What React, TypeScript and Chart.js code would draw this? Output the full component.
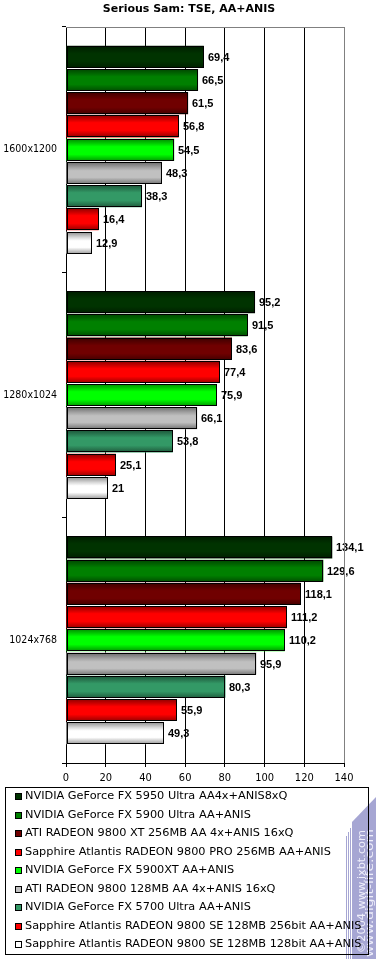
import React, { useEffect, useRef } from 'react';
import { Chart, registerables } from 'chart.js';

Chart.register(...registerables);

const TITLE = 'Serious Sam: TSE, AA+ANIS';
const categories = ['1600x1200', '1280x1024', '1024x768'];
const xTicks = [0, 20, 40, 60, 80, 100, 120, 140];

const seriesNames = [
  'NVIDIA GeForce FX 5950 Ultra AA4x+ANIS8xQ',
  'NVIDIA GeForce FX 5900 Ultra AA+ANIS',
  'ATI RADEON 9800 XT 256MB AA 4x+ANIS 16xQ',
  'Sapphire Atlantis RADEON 9800 PRO 256MB AA+ANIS',
  'NVIDIA GeForce FX 5900XT AA+ANIS',
  'ATI RADEON 9800 128MB AA 4x+ANIS 16xQ',
  'NVIDIA GeForce FX 5700 Ultra AA+ANIS',
  'Sapphire Atlantis RADEON 9800 SE 128MB 256bit AA+ANIS',
  'Sapphire Atlantis RADEON 9800 SE 128MB 128bit AA+ANIS',
];

const fx5950 = [69.4, 95.2, 134.1];
const fx5900 = [66.5, 91.5, 129.6];
const r9800xt = [61.5, 83.6, 118.1];
const r9800pro = [56.8, 77.4, 111.2];
const fx5900xt = [54.5, 75.9, 110.2];
const r9800 = [48.3, 66.1, 95.9];
const fx5700 = [38.3, 53.8, 80.3];
const r9800se256 = [16.4, 25.1, 55.9];
const r9800se128 = [12.9, 21, 49.3];

const seriesValues = [fx5950, fx5900, r9800xt, r9800pro, fx5900xt, r9800, fx5700, r9800se256, r9800se128];

const seriesColors = [
  '#003300', '#008000', '#700000', '#ff0000', '#00ff00', '#c0c0c0', '#339966', '#ff0000', '#ffffff',
];

const FONT = "'DejaVu Sans', Verdana, sans-serif";
const FONT_C = "'DejaVu Sans Condensed', 'Liberation Sans', sans-serif";

function shade(hex: string, f: number): string {
  const n = parseInt(hex.slice(1), 16);
  const r = Math.round(((n >> 16) & 255) * f);
  const g = Math.round(((n >> 8) & 255) * f);
  const b = Math.round((n & 255) * f);
  return `rgb(${r},${g},${b})`;
}

const fmt = (v: number) => String(v).replace('.', ',');

const barPlugin = {
  id: 'tubeBars',
  afterDatasetsDraw(chart: any) {
    const ctx = chart.ctx;
    ctx.save();
    chart.data.datasets.forEach((ds: any, di: number) => {
      const meta = chart.getDatasetMeta(di);
      const base = seriesColors[di];
      const isLight = base === '#ffffff' || base === '#c0c0c0';
      meta.data.forEach((el: any) => {
        const p = el.getProps(['x', 'y', 'base', 'height'], true);
        const t = Math.round(p.y - p.height / 2);
        const b = Math.round(p.y + p.height / 2);
        const l = Math.round(p.base);
        const r = Math.round(p.x);
        const g = ctx.createLinearGradient(0, t, 0, b);
        if (isLight) {
          g.addColorStop(0, shade(base, 0.55));
          g.addColorStop(0.25, shade(base, 0.85));
          g.addColorStop(0.4, base);
          g.addColorStop(0.7, base);
          g.addColorStop(1, shade(base, 0.6));
        } else {
          g.addColorStop(0, shade(base, 0.55));
          g.addColorStop(0.2, shade(base, 0.8));
          g.addColorStop(0.35, base);
          g.addColorStop(0.7, base);
          g.addColorStop(1, shade(base, 0.6));
        }
        ctx.fillStyle = g;
        ctx.fillRect(l, t, r - l, b - t);
        ctx.strokeStyle = '#000';
        ctx.lineWidth = 1;
        ctx.strokeRect(l + 0.5, t + 0.5, r - l - 1, b - t - 1);
      });
    });
    ctx.restore();
  },
};

const labelPlugin = {
  id: 'valueLabels',
  beforeDraw(chart: any) {
    const ctx = chart.ctx;
    ctx.save();
    // title
    ctx.font = `bold 11px ${FONT}`;
    ctx.fillStyle = '#000';
    ctx.textAlign = 'center';
    ctx.textBaseline = 'middle';
    ctx.fillText(TITLE, 189, 9);
    // value labels
    ctx.font = "bold 11px 'Liberation Sans', Arial, sans-serif";
    ctx.textAlign = 'left';
    chart.data.datasets.forEach((ds: any, di: number) => {
      const meta = chart.getDatasetMeta(di);
      meta.data.forEach((el: any, i: number) => {
        const p = el.getProps(['x', 'y'], true);
        ctx.fillText(fmt(ds.data[i]), Math.round(p.x) + 4, p.y + 1);
      });
    });
    ctx.restore();
  },
};

const framePlugin = {
  id: 'frameTop',
  afterDraw(chart: any) {
    const { ctx, chartArea } = chart;
    ctx.save();
    ctx.strokeStyle = '#808080';
    ctx.lineWidth = 1;
    ctx.beginPath();
    ctx.moveTo(chartArea.left, Math.round(chartArea.top) + 0.5);
    ctx.lineTo(chartArea.right + 1, Math.round(chartArea.top) + 0.5);
    ctx.stroke();
    ctx.restore();
  },
};

const watermarkLegendPlugin = {
  id: 'watermarkLegend',
  afterDraw(chart: any) {
    const ctx = chart.ctx;
    ctx.save();
    // watermark
    const lav = '#a6a6d3';
    ctx.fillStyle = lav;
    ctx.beginPath();
    ctx.moveTo(352, 822);
    ctx.lineTo(376, 797);
    ctx.lineTo(376, 959);
    ctx.lineTo(352, 959);
    ctx.closePath();
    ctx.fill();
    ctx.strokeStyle = lav;
    ctx.lineWidth = 1;
    [346.5, 348.5, 350.5].forEach((x, k) => {
      ctx.beginPath();
      ctx.moveTo(x, 836 - k * 4);
      ctx.lineTo(x, 959);
      ctx.stroke();
    });
    ctx.fillStyle = '#eeeefa';
    ctx.font = `10px ${FONT}`;
    ctx.textAlign = 'left';
    ctx.textBaseline = 'middle';
    const wm = [
      { text: '\u00a92004 www.ixbt.com', x: 362, y: 953, len: 123 },
      { text: 'www.digit-life.com', x: 370, y: 957, len: 128 },
    ];
    wm.forEach((w) => {
      ctx.save();
      ctx.translate(w.x, w.y);
      ctx.rotate(-Math.PI / 2);
      const mw = ctx.measureText(w.text).width;
      ctx.scale(w.len / mw, 1);
      ctx.fillText(w.text, 0, 0);
      ctx.restore();
    });

    // legend
    ctx.strokeStyle = '#000';
    ctx.lineWidth = 1;
    ctx.strokeRect(5.5, 787.5, 363, 167);
    ctx.font = `11.3px ${FONT}`;
    ctx.textBaseline = 'middle';
    ctx.fillStyle = '#000';
    seriesNames.forEach((name, i) => {
      const cy = Math.round(796 + i * 18.5);
      ctx.fillStyle = seriesColors[i];
      ctx.fillRect(15, cy - 3, 7, 7);
      ctx.strokeStyle = '#000';
      ctx.strokeRect(15.5, cy - 2.5, 6, 6);
      ctx.fillStyle = '#000';
      ctx.fillText(name, 25, cy + 0.5);
    });
    ctx.restore();
  },
};

export default function App() {
  const ref = useRef<HTMLCanvasElement | null>(null);

  useEffect(() => {
    document.body.style.margin = '0';
    document.body.style.background = '#ffffff';
    if (!ref.current) return;
    const chart = new Chart(ref.current, {
      type: 'bar',
      data: {
        labels: categories,
        datasets: seriesNames.map((name, i) => ({
          label: name,
          data: seriesValues[i],
          backgroundColor: seriesColors[i],
          borderWidth: 0,
          categoryPercentage: 0.852,
          barPercentage: 0.95,
        })),
      },
      options: {
        indexAxis: 'y',
        responsive: false,
        animation: false,
        events: [],
        layout: { padding: { left: 0, right: 32, top: 27, bottom: 172 } },
        plugins: {
          legend: { display: false },
          tooltip: { enabled: false },
          title: { display: false },
        },
        scales: {
          x: {
            min: xTicks[0],
            max: xTicks[xTicks.length - 1],
            ticks: {
              stepSize: 20,
              color: '#000',
              font: { family: FONT_C, size: 11 },
              padding: 5,
              maxRotation: 0,
            },
            grid: {
              color: (c: any) => (c.tick && c.tick.value === 140 ? '#808080' : '#000'),
              tickColor: '#000',
              lineWidth: 1,
              tickLength: 4,
            },
            border: { color: '#000' },
            afterFit: (s: any) => {
              s.height = 24;
            },
          },
          y: {
            ticks: {
              color: '#000',
              font: { family: FONT_C, size: 10.5 },
              padding: 5,
            },
            grid: {
              drawOnChartArea: false,
              tickLength: 4,
              color: '#000',
              offset: true,
            },
            border: { color: '#000' },
            afterFit: (s: any) => {
              s.width = 66;
            },
          },
        },
      },
      plugins: [labelPlugin, barPlugin, framePlugin, watermarkLegendPlugin],
    } as any);
    return () => chart.destroy();
  }, []);

  return (
    <div style={{ width: 376, height: 959 }}>
      <canvas ref={ref} width={376} height={959} style={{ display: 'block', width: 376, height: 959 }} />
    </div>
  );
}
